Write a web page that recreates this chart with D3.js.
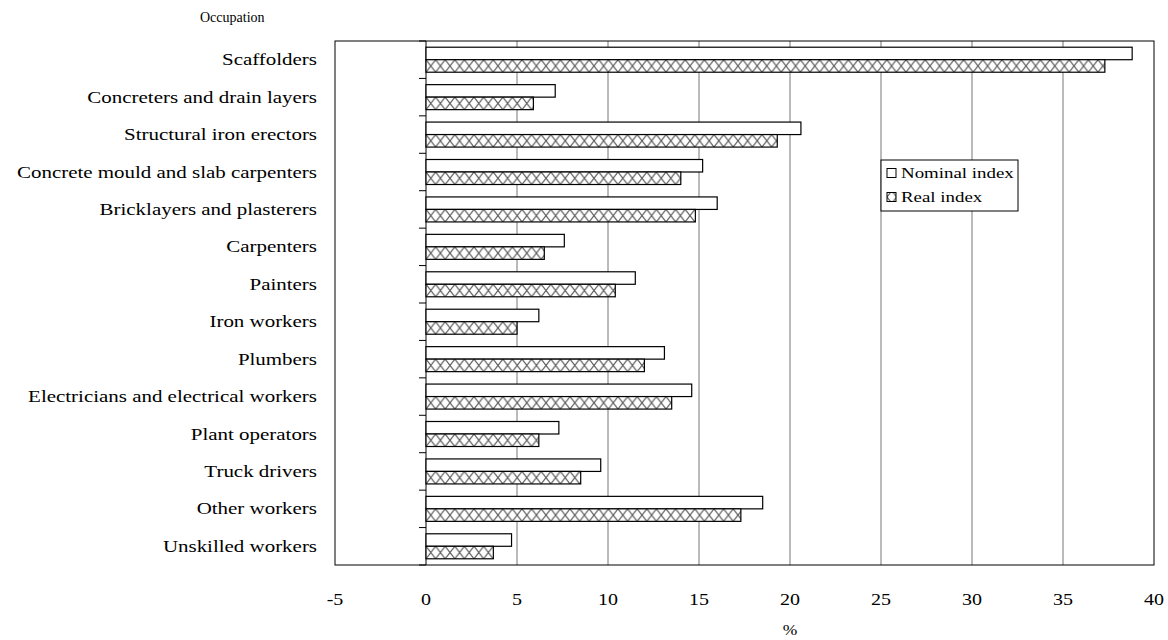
<!DOCTYPE html>
<html>
<head>
<meta charset="utf-8">
<script src="https://cdn.jsdelivr.net/npm/d3@7/dist/d3.min.js"></script>
<style>
  body { margin: 0; background: #fff; }
  text { font-family: "Liberation Serif", "DejaVu Serif", serif; fill: #000; }
</style>
</head>
<body>
<div id="chart"></div>
<script>
var occupations = ["Scaffolders", "Concreters and drain layers", "Structural iron erectors",
  "Concrete mould and slab carpenters", "Bricklayers and plasterers", "Carpenters", "Painters",
  "Iron workers", "Plumbers", "Electricians and electrical workers", "Plant operators ",
  "Truck drivers", "Other workers", "Unskilled workers"]
var nominalIndex = [38.8, 7.1, 20.6, 15.2, 16.0, 7.6, 11.5, 6.2, 13.1, 14.6, 7.3, 9.6, 18.5, 4.7]
var realIndex = [37.3, 5.9, 19.3, 14.0, 14.8, 6.5, 10.4, 5.0, 12.0, 13.5, 6.2, 8.5, 17.3, 3.7]
var seriesNames = ["Nominal index", "Real index"]
var xTicks = [-5, 0, 5, 10, 15, 20, 25, 30, 35, 40]

var margin = { top: 41, left: 335, right: 14, bottom: 75 },
    width = 1168 - margin.left - margin.right,
    height = 640 - margin.top - margin.bottom

// the original text is wider than it is tall
var stretch = 1.31

var svg = d3.select("#chart").append("svg")
    .attr("width", 1168)
    .attr("height", 640)

var defs = svg.append("defs")
var pat = defs.append("pattern")
    .attr("id", "hatch")
    .attr("patternUnits", "userSpaceOnUse")
    .attr("width", 9.6)
    .attr("height", 12.5)
pat.append("rect").attr("width", 9.6).attr("height", 12.5).attr("fill", "#fff")
pat.append("path")
    .attr("d", "M0,0L9.6,12.5M9.6,0L0,12.5")
    .attr("stroke", "#555")
    .attr("stroke-width", 1.1)

var container = svg.append("g")
    .attr("transform", "translate(" + margin.left + "," + margin.top + ")")

var xScale = d3.scaleLinear()
    .domain([-5, 40])
    .range([0, width])

var yScale = d3.scaleBand()
    .domain(occupations)
    .range([0, height])

function place(x, y, sx) {
  return "translate(" + x + "," + y + ") scale(" + sx + ",1)"
}

// vertical gridlines for positive ticks
container.selectAll(".grid")
    .data(xTicks.filter(function(d) { return d > 0 && d < 40 }))
    .enter().append("line")
    .attr("class", "grid")
    .attr("x1", function(d) { return xScale(d) })
    .attr("x2", function(d) { return xScale(d) })
    .attr("y1", 0)
    .attr("y2", height)
    .attr("stroke", "#777")
    .attr("stroke-width", 1)

// frame
container.append("rect")
    .attr("x", 0).attr("y", 0)
    .attr("width", width).attr("height", height)
    .attr("fill", "none")
    .attr("stroke", "#000")
    .attr("stroke-width", 1)

// zero axis with ticks between categories
var yAxisG = container.append("g")
    .attr("transform", "translate(" + xScale(0) + ",0)")
yAxisG.append("line")
    .attr("y1", 0).attr("y2", height)
    .attr("stroke", "#000")
yAxisG.selectAll(".tk")
    .data(d3.range(occupations.length + 1))
    .enter().append("line")
    .attr("class", "tk")
    .attr("x1", -7).attr("x2", 0)
    .attr("y1", function(i) { return i * yScale.step() })
    .attr("y2", function(i) { return i * yScale.step() })
    .attr("stroke", "#000")

var barH = 12.5
var groupOffset = (yScale.bandwidth() - 2 * barH) / 2

var rows = container.selectAll(".row")
    .data(occupations)
    .enter().append("g")
    .attr("class", "row")
    .attr("transform", function(d) { return "translate(0," + yScale(d) + ")" })

rows.append("rect")
    .attr("x", xScale(0))
    .attr("y", groupOffset)
    .attr("width", function(d, i) { return xScale(nominalIndex[i]) - xScale(0) })
    .attr("height", barH)
    .attr("fill", "#fff")
    .attr("stroke", "#000")
    .attr("stroke-width", 1.2)

rows.append("g")
    .attr("transform", "translate(" + xScale(0) + "," + (groupOffset + barH) + ")")
    .append("rect")
    .attr("x", 0)
    .attr("y", 0)
    .attr("width", function(d, i) { return xScale(realIndex[i]) - xScale(0) })
    .attr("height", barH)
    .attr("fill", "url(#hatch)")
    .attr("stroke", "#000")
    .attr("stroke-width", 1.2)

// category labels
container.selectAll(".cat")
    .data(occupations)
    .enter().append("text")
    .attr("class", "cat")
    .attr("transform", function(d) { return place(-18, yScale(d) + yScale.bandwidth() / 2, stretch) })
    .attr("dy", "0.35em")
    .attr("text-anchor", "end")
    .attr("font-size", "16px")
    .text(function(d) { return d })

// x tick labels
container.selectAll(".xl")
    .data(xTicks)
    .enter().append("text")
    .attr("class", "xl")
    .attr("transform", function(d) { return place(xScale(d), height + 40, 1.25) })
    .attr("text-anchor", "middle")
    .attr("font-size", "16px")
    .text(function(d) { return d })

container.append("text")
    .attr("transform", place(xScale(20), height + 70, 1.25))
    .attr("text-anchor", "middle")
    .attr("font-size", "14px")
    .text("%")

svg.append("text")
    .attr("transform", place(200, 22, 1))
    .attr("font-size", "14px")
    .text("Occupation")

// legend
var legend = container.append("g")
    .attr("transform", "translate(" + (881 - margin.left) + "," + (160 - margin.top) + ")")
legend.append("rect")
    .attr("width", 137).attr("height", 51)
    .attr("fill", "#fff")
    .attr("stroke", "#000")
    .attr("stroke-width", 1)

var items = legend.selectAll(".li")
    .data(seriesNames)
    .enter().append("g")
    .attr("class", "li")
    .attr("transform", function(d, i) { return "translate(6," + (13 + i * 24) + ")" })
items.append("rect")
    .attr("x", 0).attr("y", -4.5)
    .attr("width", 9).attr("height", 9)
    .attr("fill", function(d, i) { return i === 0 ? "#fff" : "url(#hatch)" })
    .attr("stroke", "#000")
items.append("text")
    .attr("transform", place(14, 0, 1.35))
    .attr("dy", "0.35em")
    .attr("font-size", "14px")
    .text(function(d) { return d })
</script>
</body>
</html>
